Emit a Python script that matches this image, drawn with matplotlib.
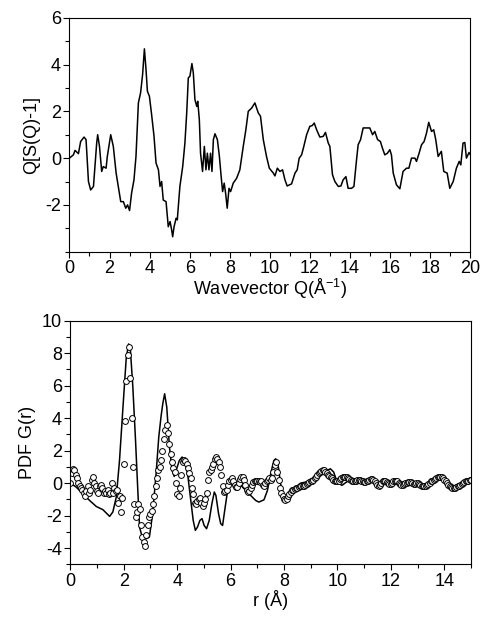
import numpy as np
import matplotlib
matplotlib.use("Agg")
import matplotlib.pyplot as plt
from matplotlib.ticker import MultipleLocator

plt.rcParams['font.family'] = ['Liberation Sans', 'DejaVu Sans']
plt.rcParams['mathtext.fontset'] = 'custom'
plt.rcParams['mathtext.rm'] = 'Liberation Sans'
plt.rcParams['mathtext.default'] = 'regular'
plt.rcParams['axes.unicode_minus'] = False

# ---- Top panel: Q[S(Q)-1] ----
q_vals = [0.0, 0.2, 0.28, 0.45, 0.56, 0.73, 0.83, 0.95, 1.06, 1.2, 1.36, 1.41, 1.5, 1.61, 1.69, 1.83, 1.89,
          2.06, 2.19, 2.33, 2.44, 2.56, 2.69, 2.81, 2.9, 3.0, 3.1, 3.22, 3.32, 3.44, 3.55, 3.65, 3.74, 3.82,
          3.89, 3.99, 4.1, 4.22, 4.32, 4.44, 4.52, 4.6, 4.68, 4.82, 4.93, 5.02, 5.1, 5.15, 5.22, 5.32, 5.38,
          5.51, 5.65, 5.76, 5.85, 5.93, 6.01, 6.11, 6.18, 6.26, 6.35, 6.4, 6.48, 6.54, 6.64, 6.73, 6.81, 6.88,
          6.96, 7.04, 7.11, 7.18, 7.26, 7.38, 7.48, 7.56, 7.64, 7.72, 7.79, 7.87, 7.96, 8.04, 8.17, 8.34, 8.5,
          8.67, 8.8, 8.92, 9.09, 9.25, 9.42, 9.53, 9.67, 9.83, 9.97, 10.17, 10.25, 10.37, 10.5, 10.63, 10.75,
          10.86, 11.08, 11.25, 11.36, 11.46, 11.58, 11.69, 11.83, 11.99, 12.11, 12.21, 12.33, 12.49, 12.66,
          12.77, 12.91, 12.99, 13.12, 13.24, 13.41, 13.54, 13.65, 13.79, 13.9, 14.07, 14.19, 14.32, 14.4,
          14.52, 14.65, 14.82, 14.98, 15.12, 15.23, 15.37, 15.51, 15.61, 15.73, 15.86, 15.98, 16.06, 16.15,
          16.31, 16.48, 16.64, 16.81, 16.93, 17.06, 17.23, 17.31, 17.44, 17.56, 17.69, 17.81, 17.92, 18.06,
          18.17, 18.27, 18.39, 18.55, 18.67, 18.84, 18.97, 19.14, 19.3, 19.44, 19.52, 19.63, 19.72, 19.8,
          19.93, 20.0]
sq_vals = [0.0, 0.14, 0.33, 0.19, 0.71, 0.9, 0.79, -1.0, -1.36, -1.21, 0.64, 1.0, 0.5, -0.57, -0.36, -0.43,
           0.07, 1.0, 0.5, -0.64, -1.21, -1.86, -1.86, -2.14, -2.0, -2.24, -1.5, -0.93, 0.07, 2.36, 2.79,
           3.57, 4.67, 3.79, 2.86, 2.64, 1.86, 0.93, -0.21, -0.5, -1.21, -1.0, -1.79, -1.86, -2.93, -2.71,
           -3.07, -3.36, -2.93, -2.57, -2.64, -1.21, -0.36, 0.64, 1.93, 3.43, 3.5, 4.04, 3.64, 2.5, 2.21,
           2.43, 1.64, 0.21, -0.57, 0.5, -0.5, 0.21, -0.5, 0.21, -0.57, 0.79, 1.04, 0.79, 0.07, -0.71,
           -1.43, -1.07, -1.5, -2.14, -1.29, -1.43, -1.07, -0.86, -0.5, 0.5, 1.21, 2.0, 2.14, 2.36, 1.93,
           1.79, 0.79, 0.07, -0.43, -0.64, -0.76, -0.43, -0.57, -0.5, -0.93, -1.19, -1.1, -0.64, -0.5, 0.0,
           0.14, 0.5, 1.0, 1.36, 1.39, 1.5, 1.21, 0.9, 0.93, 1.1, 0.64, 0.5, -0.71, -1.0, -1.21, -1.19,
           -0.93, -0.79, -1.29, -1.29, -1.21, -0.07, 0.57, 0.79, 1.29, 1.29, 1.29, 1.0, 1.14, 0.79, 0.71,
           0.43, 0.14, 0.21, 0.36, 0.14, -0.64, -1.14, -1.31, -0.57, -0.43, -0.43, 0.0, 0.0, -0.14, 0.21,
           0.57, 0.71, 1.07, 1.53, 1.14, 1.21, 0.79, 0.07, 0.29, -0.57, -0.64, -1.29, -1.0, -0.43, -0.14,
           -0.29, 0.64, 0.67, 0.0, 0.24, 0.14]

# ---- Bottom panel: PDF G(r) ----
# experimental (open circles), r step 0.05 from 0 to 15
g_exp = [0.0, 0.6, 0.85, 0.8, 0.5, 0.3, 0.0, -0.2, -0.3, -0.45,
         -0.6, -0.8, -0.5, -0.2, -0.6, -0.4, 0.2, 0.4, 0.0, -0.2,
         -0.5, -0.6, -0.2, -0.1, -0.3, -0.6, -0.5, -0.6, -0.4, -0.7,
         -0.6, 0.0, -0.6, -0.3, -0.5, -0.4, -1.2, -0.8, -1.8, -0.9,
         1.2, 3.8, 6.3, 7.9, 8.4, 6.5, 4.0, 1.0, -1.3, -2.1,
         -1.8, -1.3, -1.6, -2.6, -3.3, -3.6, -3.9, -3.2, -2.6, -2.1,
         -1.9, -1.7, -1.3, -0.8, -0.2, 0.3, 0.8, 1.0, 1.4, 2.0,
         2.7, 3.3, 3.6, 3.1, 2.4, 1.8, 1.3, 0.9, 0.7, 0.0,
         -0.7, -0.8, -0.3, 0.5, 1.3, 1.4, 1.35, 1.2, 0.9, 0.6,
         0.3, -0.3, -0.7, -1.2, -1.3, -1.1, -1.0, -0.9, -1.2, -1.4,
         -1.2, -1.0, -0.6, 0.2, 0.7, 0.8, 1.0, 1.2, 1.5, 1.6,
         1.5, 1.3, 1.0, 0.5, -0.2, -0.55, -0.5, -0.4, -0.1, 0.1,
         0.2, 0.3, 0.15, -0.1, -0.25, -0.25, 0.0, 0.25, 0.4, 0.4,
         0.2, -0.1, -0.4, -0.55, -0.5, -0.3, -0.1, 0.05, 0.1, 0.15,
         0.15, 0.1, 0.05, 0.1, -0.1, -0.15, 0.0, 0.1, 0.2, 0.3,
         0.2, 0.3, 0.7, 1.1, 1.3, 0.7, 0.2, -0.3, -0.6, -0.8,
         -1.0, -1.05, -0.95, -0.8, -0.65, -0.55, -0.45, -0.4, -0.35, -0.3,
         -0.3, -0.25, -0.2, -0.2, -0.2, -0.15, -0.1, -0.05, 0.0, 0.05,
         0.1, 0.15, 0.2, 0.3, 0.4, 0.5, 0.6, 0.7, 0.75, 0.8,
         0.8, 0.7, 0.6, 0.5, 0.45, 0.4, 0.3, 0.2, 0.15, 0.1,
         0.1, 0.15, 0.25, 0.3, 0.35, 0.4, 0.4, 0.35, 0.3, 0.25,
         0.2, 0.15, 0.1, 0.1, 0.15, 0.2, 0.2, 0.2, 0.15, 0.1,
         0.05, 0.05, 0.1, 0.15, 0.2, 0.25, 0.25, 0.2, 0.1, 0.0,
         -0.1, -0.15, -0.1, 0.0, 0.1, 0.15, 0.1, 0.05, 0.0, -0.05,
         -0.05, 0.0, 0.1, 0.15, 0.15, 0.1, 0.0, -0.05, -0.1, -0.1,
         -0.05, 0.0, 0.0, 0.05, 0.05, 0.05, 0.0, -0.05, -0.05, 0.0,
         0.0, -0.05, -0.1, -0.15, -0.2, -0.2, -0.15, -0.1, -0.05, 0.0,
         0.1, 0.15, 0.2, 0.25, 0.3, 0.35, 0.4, 0.4, 0.35, 0.3,
         0.2, 0.1, 0.0, -0.1, -0.2, -0.25, -0.3, -0.3, -0.3, -0.25,
         -0.2, -0.15, -0.1, -0.05, 0.0, 0.05, 0.1, 0.15, 0.15, 0.2,
         0.2]
r_exp = np.round(np.arange(len(g_exp)) * 0.05, 2)

# model fit (solid line)
r_fit = [0.0, 0.22, 0.47, 0.72, 0.97, 1.22, 1.47, 1.59, 1.72, 1.84, 1.97, 2.09, 2.18, 2.25, 2.34, 2.44,
         2.52, 2.59, 2.69, 2.84, 2.96, 3.08, 3.21, 3.31, 3.4, 3.46, 3.53, 3.61, 3.71, 3.81, 3.89, 3.98,
         4.08, 4.18, 4.27, 4.39, 4.51, 4.6, 4.68, 4.76, 4.85, 4.93, 5.01, 5.1, 5.2, 5.3, 5.39, 5.45, 5.55,
         5.63, 5.7, 5.78, 5.88, 6.01, 6.19, 6.38, 6.57, 6.75, 6.94, 7.06, 7.25, 7.38, 7.5, 7.62, 7.69,
         7.79, 7.87, 8.0, 8.12, 8.25, 8.43, 8.62, 8.81, 9.05, 9.3, 9.55, 9.74, 9.86, 9.99, 10.17, 10.42,
         10.67, 10.92, 11.17, 11.42, 11.67, 11.92, 12.16, 12.41, 12.66, 12.91, 13.16, 13.41, 13.66, 13.91,
         14.09, 14.28, 14.46, 14.71, 15.0]
g_fit = [0.0, -0.25, -0.66, -1.07, -1.44, -1.64, -2.05, -1.78, -0.86, 1.39, 4.68, 7.65, 8.57, 8.16, 5.9,
         2.63, -0.25, -2.71, -3.32, -3.43, -3.32, -1.89, 0.57, 2.83, 4.16, 4.88, 5.5, 4.68, 2.22, 0.78,
         0.41, 0.88, 1.39, 1.6, 1.5, 0.57, -1.07, -2.3, -2.91, -2.71, -2.3, -2.19, -2.61, -2.81, -2.3,
         -1.27, -0.55, -0.76, -1.89, -2.5, -2.61, -1.68, -0.55, -0.04, 0.0, -0.14, -0.45, -0.76, -1.07,
         -1.17, -1.03, -0.45, 0.57, 1.39, 1.5, 0.98, -0.04, -0.76, -1.07, -0.76, -0.35, 0.0, 0.06, 0.16,
         0.57, 0.74, 0.88, 0.68, 0.06, -0.14, 0.16, 0.27, 0.2, 0.06, 0.16, -0.14, 0.06, -0.04, 0.06, 0.0,
         0.06, -0.04, -0.08, 0.16, 0.41, 0.27, -0.25, -0.35, -0.04, 0.2]

fig = plt.figure(figsize=(4.82, 6.22), dpi=100)
ax1 = fig.add_axes([0.144, 0.5953, 0.832, 0.3762])
ax2 = fig.add_axes([0.146, 0.0928, 0.831, 0.3916])

ax1.plot(q_vals, sq_vals, color='black', lw=1.1)
ax1.set_xlim(0, 20)
ax1.set_ylim(-4, 6)
ax1.set_xticks(range(0, 21, 2))
ax1.set_yticks([-2, 0, 2, 4, 6])
ax1.xaxis.set_minor_locator(MultipleLocator(1))
ax1.yaxis.set_minor_locator(MultipleLocator(1))
ax1.set_xlabel('Wavevector Q(Å$^{-1}$)', fontsize=13, labelpad=0)
ax1.set_ylabel('Q[S(Q)-1]', fontsize=13, labelpad=4)

ax2.plot(r_fit, g_fit, color='black', lw=1.1)
ax2.plot(r_exp, g_exp, linestyle='none', marker='o', markersize=4.2,
         markerfacecolor='white', markeredgecolor='black', markeredgewidth=0.7)
ax2.set_xlim(0, 15)
ax2.set_ylim(-5, 10)
ax2.set_xticks(range(0, 15, 2))
ax2.set_yticks(range(-4, 11, 2))
ax2.xaxis.set_minor_locator(MultipleLocator(1))
ax2.yaxis.set_minor_locator(MultipleLocator(1))
ax2.set_xlabel('r (Å)', fontsize=13, labelpad=0)
ax2.set_ylabel('PDF G(r)', fontsize=13, labelpad=4)

for ax in (ax1, ax2):
    ax.tick_params(which='major', direction='out', length=4, width=0.8, labelsize=13,
                   top=False, right=False, pad=2)
    ax.tick_params(which='minor', direction='out', length=3, width=0.8, top=False, right=False)
    for s in ax.spines.values():
        s.set_linewidth(0.8)

fig.savefig('out.png', dpi=100)
